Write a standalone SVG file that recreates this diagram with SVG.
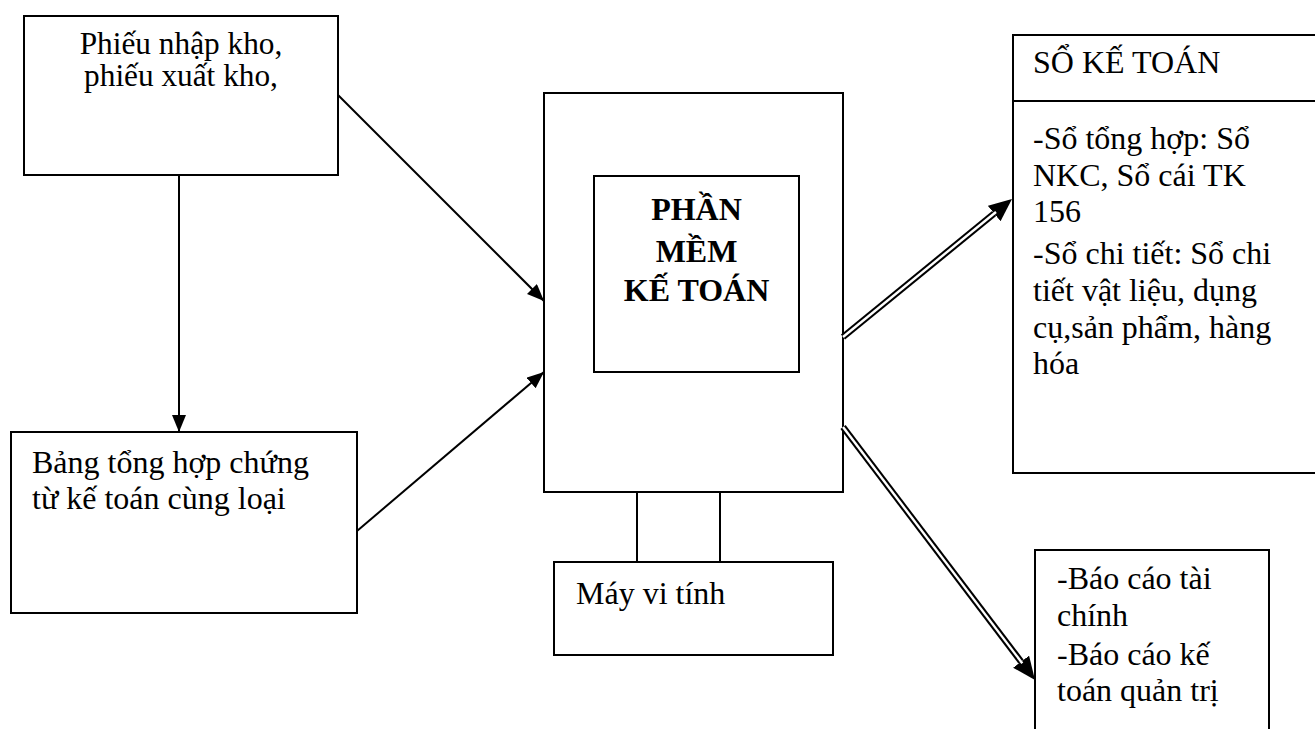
<svg xmlns="http://www.w3.org/2000/svg" width="1315" height="729" viewBox="0 0 1315 729">
<style>
.box{fill:#fff;stroke:#000;stroke-width:2}
.ln{fill:none;stroke:#000;stroke-width:2}
.t{font-family:"Liberation Serif","Times New Roman",serif;font-size:32px;fill:#000}
.s{font-size:31.3px}
.b{font-weight:bold}
.dbl{fill:none;stroke:#000;stroke-width:6.5}
.dbw{fill:none;stroke:#fff;stroke-width:2.4}
</style>
<defs>
<marker id="ah" markerUnits="userSpaceOnUse" markerWidth="20" markerHeight="16" refX="17" refY="7" orient="auto">
<path d="M0,0 L17,7 L0,14 Z" fill="#000"/>
</marker>
<marker id="ahb" markerUnits="userSpaceOnUse" markerWidth="26" markerHeight="22" refX="0" refY="10" orient="auto">
<path d="M0,0 L23,10 L0,20 Z" fill="#000"/>
</marker>
</defs>
<g id="n-phieu">
<rect class="box" x="24" y="16" width="314" height="159"/>
<text class="t s" x="181" y="54" text-anchor="middle">Phiếu nhập kho,</text>
<text class="t s" x="181" y="86" text-anchor="middle">phiếu xuất kho,</text>
</g>
<g id="n-bang">
<rect class="box" x="11" y="432" width="346" height="181"/>
<text class="t" x="32" y="473">Bảng tổng hợp chứng</text>
<text class="t" x="32" y="509">từ kế toán cùng loại</text>
</g>
<g id="n-maytinh">
<rect class="box" x="544" y="93" width="299" height="399"/>
<rect class="box" x="594" y="176" width="205" height="196"/>
<text class="t b" x="696.5" y="220" text-anchor="middle">PHẦN</text>
<text class="t b" x="696.5" y="262" text-anchor="middle">MỀM</text>
<text class="t b" x="696.5" y="301" text-anchor="middle">KẾ TOÁN</text>
<line class="ln" x1="637" y1="492" x2="637" y2="562"/>
<line class="ln" x1="720" y1="492" x2="720" y2="562"/>
<rect class="box" x="554" y="562" width="279" height="93"/>
<text class="t" x="576" y="604">Máy vi tính</text>
</g>
<g id="n-sokt">
<rect class="box" x="1013" y="35" width="310" height="438"/>
<line class="ln" x1="1013" y1="101" x2="1315" y2="101"/>
<text class="t" x="1033" y="73">SỔ KẾ TOÁN</text>
<text class="t" x="1033" y="149">-Sổ tổng hợp: Sổ</text>
<text class="t" x="1033" y="186">NKC, Sổ cái TK</text>
<text class="t" x="1033" y="222">156</text>
<text class="t" x="1033" y="264">-Sổ chi tiết: Sổ chi</text>
<text class="t" x="1033" y="301">tiết vật liệu, dụng</text>
<text class="t" x="1033" y="338">cụ,sản phẩm, hàng</text>
<text class="t" x="1033" y="374">hóa</text>
</g>
<g id="n-baocao">
<path class="ln" d="M1035,735 L1035,550 L1269,550 L1269,735"/>
<text class="t" x="1057" y="589">-Báo cáo tài</text>
<text class="t" x="1057" y="626">chính</text>
<text class="t" x="1057" y="665">-Báo cáo kế</text>
<text class="t" x="1057" y="701">toán quản trị</text>
</g>
<g id="connectors">
<line class="ln" x1="179" y1="175" x2="179" y2="432" marker-end="url(#ah)"/>
<line class="ln" x1="338" y1="95" x2="544" y2="301" marker-end="url(#ah)"/>
<line class="ln" x1="357" y1="531" x2="544" y2="372" marker-end="url(#ah)"/>
<line class="dbl" x1="843" y1="337" x2="994.2" y2="213.5" marker-end="url(#ahb)"/>
<line class="dbw" x1="843" y1="337" x2="996" y2="212"/>
<line class="dbl" x1="843" y1="427" x2="1021.1" y2="661.7" marker-end="url(#ahb)"/>
<line class="dbw" x1="843" y1="427" x2="1022.3" y2="663.3"/>
</g>
</svg>
